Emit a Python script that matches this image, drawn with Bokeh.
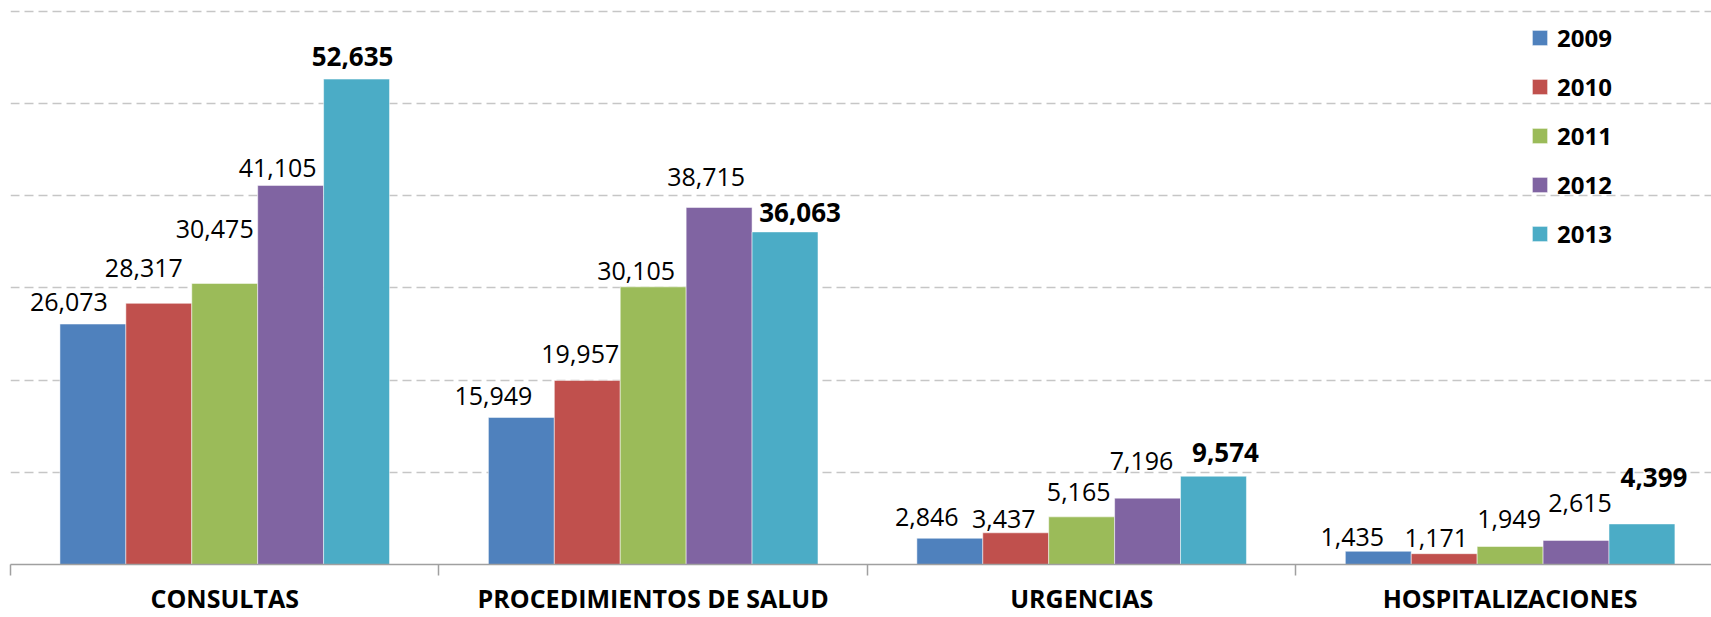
from bokeh.plotting import figure
from bokeh.models import (Range1d, LinearAxis, FixedTicker, Grid,
                          ColumnDataSource, Legend, LegendItem)
from bokeh.transform import dodge
from bokeh.core.properties import value
from bokeh.embed import file_html
from bokeh.resources import INLINE

# ---------------- data ----------------
categories = ["CONSULTAS", "PROCEDIMIENTOS DE SALUD", "URGENCIAS", "HOSPITALIZACIONES"]
years = ["2009", "2010", "2011", "2012", "2013"]
v2009 = [26073, 15949, 2846, 1435]
v2010 = [28317, 19957, 3437, 1171]
v2011 = [30475, 30105, 5165, 1949]
v2012 = [41105, 38715, 7196, 2615]
v2013 = [52635, 36063, 9574, 4399]
series = [v2009, v2010, v2011, v2012, v2013]

# ---------------- style ----------------
colors = ["#4F81BD", "#C0504D", "#9BBB59", "#8064A2", "#4BACC6"]
grid_ticks = [10000, 20000, 30000, 40000, 50000, 60000]
# label nudges in screen pixels (dx right, dy up), per series, per category
label_dx = [[-24, -28, -23, -26],
            [-15, -7, -12, -8],
            [-10, -17, -3, -1],
            [-13, -13, -6, 4],
            [-4, 15, 12, 12]]
label_dy = [[22, 21, 21, 14],
            [35, 26, 14, 16],
            [54, 16, 25, 28],
            [17, 30, 37, 37],
            [23, 19, 24, 46]]

W, H = 1711, 617
n = len(categories)
centers = [i + 0.5 for i in range(n)]      # category slot centres on the x scale
edges = list(range(n + 1))                 # category slot boundaries

p = figure(width=W, height=H,
           x_range=Range1d(0, n - 0.03),   # right edge of last slot is cropped, as in the original
           y_range=Range1d(0, 60000 * 1.003),
           x_axis_location=None, y_axis_location=None,
           output_backend="svg", toolbar_location=None,
           min_border_left=10, min_border_right=0, min_border_top=9, min_border_bottom=52,
           outline_line_color=None, background_fill_color="white",
           border_fill_color="white")
for g in p.grid:
    g.visible = False

grid = Grid(dimension=1, ticker=FixedTicker(ticks=grid_ticks),
            grid_line_color="#c6c6c6", grid_line_dash="9 5", grid_line_width=1.3)
p.add_layout(grid)

bar_w = 1 / 6.5
offsets = [(i - 2) * bar_w for i in range(len(years))]
items = []
for i, (yr, vals, col) in enumerate(zip(years, series, colors)):
    src = ColumnDataSource(dict(pos=centers, val=vals,
                                lab=[f"{v:,}" for v in vals],
                                dx=label_dx[i], dy=[-d for d in label_dy[i]]))
    r = p.vbar(x=dodge("pos", offsets[i]), top="val", width=bar_w,
               source=src, fill_color=col, line_color="white", line_alpha=0.5,
               line_width=1)
    p.text(x=dodge("pos", offsets[i]), y="val", text="lab",
           x_offset="dx", y_offset="dy", source=src,
           text_align="center", text_baseline="middle",
           text_font=value("Open Sans"),
           text_font_size="26px" if i == 4 else "25px",
           text_font_style="bold" if i == 4 else "normal",
           text_color="black")
    items.append(LegendItem(label=yr, renderers=[r]))

xaxis = LinearAxis(ticker=FixedTicker(ticks=centers, minor_ticks=edges),
                   major_label_overrides={c: name for c, name in zip(centers, categories)},
                   major_tick_line_color=None, major_tick_in=0, major_tick_out=0,
                   minor_tick_in=0, minor_tick_out=11,
                   minor_tick_line_color="#a0a0a0", minor_tick_line_width=1.5,
                   axis_line_color="#a0a0a0", axis_line_width=1.5,
                   major_label_standoff=5,
                   major_label_text_font="Open Sans",
                   major_label_text_font_style="bold",
                   major_label_text_font_size="25px",
                   major_label_text_color="black")
p.add_layout(xaxis, "below")

# legend: location is the bottom-left corner, in pixels from the frame's bottom-left
legend = Legend(items=items, location=(1520, 314),
                glyph_width=19, glyph_height=19, label_standoff=8,
                spacing=16, label_height=30, padding=0, margin=0,
                border_line_color=None, background_fill_alpha=0,
                label_text_font="Open Sans", label_text_font_style="bold",
                label_text_font_size="24px", label_text_color="black")
p.add_layout(legend)

open("out.html", "w").write(file_html(p, INLINE))
